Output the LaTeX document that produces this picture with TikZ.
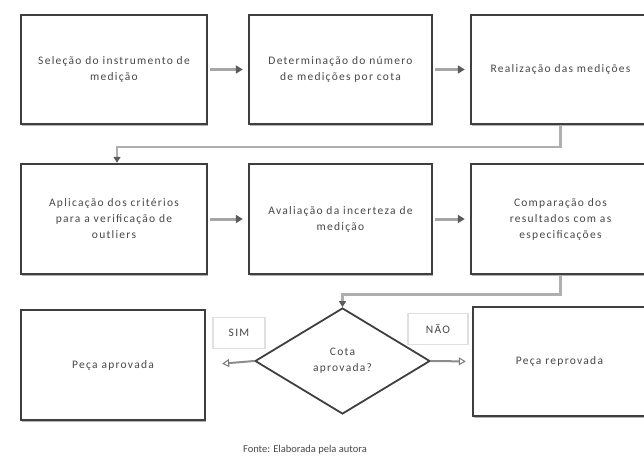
\documentclass[tikz,border=0pt]{standalone}
\usepackage{fontspec}
\setmainfont{Carlito}
\newfontfamily\boxfont[LetterSpace=11]{Carlito}
\usetikzlibrary{arrows.meta,shapes.geometric,shadows}

\definecolor{edge}{HTML}{3F3F3F}
\definecolor{shaft}{HTML}{A6A6A6}
\definecolor{tipc}{HTML}{5A5A5A}
\definecolor{txt}{HTML}{484848}

\tikzset{
  stepbox/.style={draw=edge, line width=2.4pt, fill=white, rectangle,
    inner sep=0pt, align=center, text=txt,
    drop shadow={shadow xshift=0.5pt, shadow yshift=-2pt, fill=black!30, opacity=1},
    font=\boxfont\fontsize{11.5}{16}\selectfont},
  decision/.style={draw=edge, line width=1.8pt, diamond, inner sep=0pt,
    minimum width=175pt, minimum height=106pt, align=center, text=txt,
    font=\boxfont\fontsize{11.5}{16}\selectfont},
  flow/.style={draw=shaft, line width=3pt, shorten >=5pt, shorten <=2pt,
    -{Triangle[length=7pt,width=8pt,color=tipc]}},
  link/.style={draw=shaft!90, line width=2.6pt,
    -{Triangle[length=6pt,width=7pt,color=tipc]}},
  branch/.style={draw=shaft!85!black, line width=2pt,
    -{Triangle[open,length=7pt,width=8pt,color=tipc!80,line width=1pt]}},
  tag/.style={draw=black!12, line width=1.6pt, fill=white, inner sep=0pt,
    minimum width=52pt, minimum height=31pt, text=txt,
    font=\boxfont\fontsize{11.5}{13}\selectfont},
}

\begin{document}
\begin{tikzpicture}[x=1pt,y=-1pt]
  \useasboundingbox (0,0) rectangle (644,457);
  \clip (0,0) rectangle (644,457);

  % first row
  \node[stepbox, minimum width=186pt, minimum height=109pt] (sel) at (114,69.5)
    {Seleção do instrumento de\\medição};
  \node[stepbox, minimum width=183pt, minimum height=109pt] (det) at (340.5,69.5)
    {Determinação do número\\de medições por cota};
  \node[stepbox, minimum width=179pt, minimum height=109pt] (rea) at (560.5,69.5)
    {Realização das medições};

  % second row
  \node[stepbox, minimum width=186pt, minimum height=110pt] (apl) at (114,219)
    {Aplicação dos critérios\\para a verificação de\\outliers};
  \node[stepbox, minimum width=183pt, minimum height=110pt] (ava) at (340.5,219)
    {Avaliação da incerteza de\\medição};
  \node[stepbox, minimum width=179pt, minimum height=110pt] (com) at (560.5,219)
    {Comparação dos\\resultados com as\\especificações};

  % decision row
  \node[decision] (cota) at (342.5,361) {Cota\\aprovada?};
  \node[stepbox, minimum width=184pt, minimum height=110pt] (ok) at (113,365)
    {Peça aprovada};
  \node[stepbox, minimum width=173pt, minimum height=109pt] (nok) at (559.5,361.5)
    {Peça reprovada};

  \node[tag] (sim) at (239,333) {SIM};
  \node[tag, minimum width=60pt] (nao) at (438,329) {NÃO};

  % connectors
  \draw[flow] (sel) -- (det);
  \draw[flow] (det) -- (rea);
  \draw[flow] (apl) -- (ava);
  \draw[flow] (ava) -- (com);
  \draw[link] (rea.south) -- ++(0,22) -| ([xshift=3pt]apl.north);
  \draw[link] (com.south) -- ++(0,19) -| (cota.north);
  \draw[branch, shorten >=16pt] (cota.west) -- (ok.east);
  \draw[branch, shorten >=6pt] (cota.east) -- (nok.west);

  % source line
  \node[text=txt, font=\fontsize{10.5}{13}\selectfont] (fonte) at (305,450)
    {Fonte: Elaborada pela autora};
\end{tikzpicture}
\end{document}
